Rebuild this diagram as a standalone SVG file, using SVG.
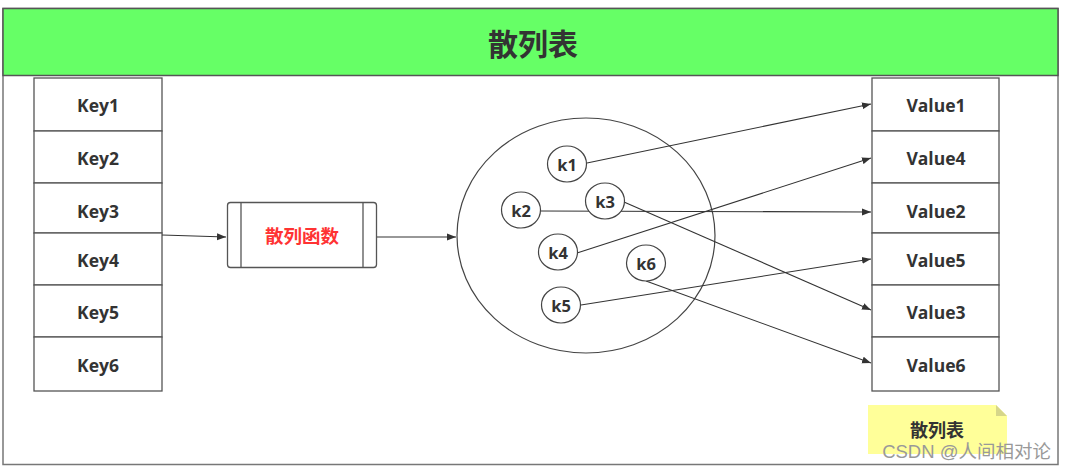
<svg xmlns="http://www.w3.org/2000/svg" width="1066" height="470" viewBox="0 0 1066 470">
<defs>
<marker id="arr" markerWidth="10" markerHeight="8" refX="9" refY="4" orient="auto" markerUnits="userSpaceOnUse">
<path d="M0,0.5 L9,4 L0,7.5 Z" fill="#333"/>
</marker>
<style>
.cell{fill:#fff;stroke:#555;stroke-width:1.3}
.t{font-family:"Open Sans","Liberation Sans","Noto Sans CJK SC",sans-serif;font-weight:bold;font-size:17.5px;fill:#333;text-anchor:middle;dominant-baseline:central}
.k{font-family:"Open Sans","Liberation Sans",sans-serif;font-weight:bold;font-size:16.5px;fill:#333;text-anchor:middle;dominant-baseline:central}
.sc{fill:#fff;stroke:#444;stroke-width:1.2}
.c{fill:none;stroke:#333;stroke-width:1.1;marker-end:url(#arr)}
</style>
</defs>
<rect width="1066" height="470" fill="#fff"/>
<g id="frame">
<rect x="3" y="8.5" width="1055" height="456" fill="#fff" stroke="#777" stroke-width="1.5"/>
<rect x="3" y="8.5" width="1055" height="67" fill="#66ff66" stroke="#555" stroke-width="1.5"/>
<text x="533" y="43" class="t" style="font-size:30px">散列表</text>
</g>
<g id="keys">
<rect class="cell" x="34" y="78" width="128" height="53"/><text class="t" x="98" y="105">Key1</text>
<rect class="cell" x="34" y="131" width="128" height="52"/><text class="t" x="98" y="158">Key2</text>
<rect class="cell" x="34" y="183" width="128" height="50"/><text class="t" x="98" y="211">Key3</text>
<rect class="cell" x="34" y="233" width="128" height="52"/><text class="t" x="98" y="260">Key4</text>
<rect class="cell" x="34" y="285" width="128" height="52"/><text class="t" x="98" y="312">Key5</text>
<rect class="cell" x="34" y="337" width="128" height="54"/><text class="t" x="98" y="365">Key6</text>
</g>
<g id="hashfn">
<rect x="227.5" y="202.5" width="149" height="65" rx="3" fill="#fff" stroke="#555" stroke-width="1.3"/>
<line x1="241" y1="202.5" x2="241" y2="267.5" stroke="#555" stroke-width="1.3"/>
<line x1="363" y1="202.5" x2="363" y2="267.5" stroke="#555" stroke-width="1.3"/>
<text class="t" x="302" y="235" style="fill:#ff3333;font-size:18.5px">散列函数</text>
</g>
<g id="bucket">
<ellipse cx="586" cy="235.5" rx="129" ry="117.5" fill="#fff" stroke="#444" stroke-width="1.2"/>
</g>
<g id="connectors">
<path class="c" d="M162,235 L226,237"/>
<path class="c" d="M377,237 L456,237"/>
<path class="c" d="M587,163 L871,104"/>
<path class="c" d="M577,253 L871,158"/>
<path class="c" d="M541,211 L871,212"/>
<path class="c" d="M581,305 L871,259"/>
<path class="c" d="M624,202 L871,310"/>
<path class="c" d="M646,281 L871,363"/>
</g>
<g id="k1"><ellipse class="sc" cx="567" cy="164" rx="19.5" ry="18"/><text class="k" x="567" y="164">k1</text></g>
<g id="k2"><ellipse class="sc" cx="521" cy="210" rx="19.5" ry="18"/><text class="k" x="521" y="210">k2</text></g>
<g id="k3"><ellipse class="sc" cx="605" cy="201" rx="19.5" ry="18"/><text class="k" x="605" y="201">k3</text></g>
<g id="k4"><ellipse class="sc" cx="558" cy="252" rx="19.5" ry="18"/><text class="k" x="558" y="252">k4</text></g>
<g id="k5"><ellipse class="sc" cx="561" cy="305" rx="19.5" ry="18"/><text class="k" x="561" y="305">k5</text></g>
<g id="k6"><ellipse class="sc" cx="646" cy="263" rx="19.5" ry="18"/><text class="k" x="646" y="263">k6</text></g>
<g id="values">
<rect class="cell" x="872" y="78" width="127" height="53"/><text class="t" x="936" y="105">Value1</text>
<rect class="cell" x="872" y="131" width="127" height="52"/><text class="t" x="936" y="158">Value4</text>
<rect class="cell" x="872" y="183" width="127" height="50"/><text class="t" x="936" y="211">Value2</text>
<rect class="cell" x="872" y="233" width="127" height="52"/><text class="t" x="936" y="260">Value5</text>
<rect class="cell" x="872" y="285" width="127" height="52"/><text class="t" x="936" y="312">Value3</text>
<rect class="cell" x="872" y="337" width="127" height="54"/><text class="t" x="936" y="365">Value6</text>
</g>
<g id="note">
<path d="M868,405 L996,405 L1007,416 L1007,454 L868,454 Z" fill="#ffff99"/>
<path d="M996,405 L1007,416 L996,416 Z" fill="#d6d68a"/>
<text class="t" x="937" y="430" style="font-size:18px">散列表</text>
</g>
<g id="watermark">
<text x="1051" y="451" text-anchor="end" font-family="Liberation Sans,Noto Sans CJK SC,sans-serif" font-size="18.5" fill="#999" dominant-baseline="central">CSDN @人间相对论</text>
</g>
</svg>
